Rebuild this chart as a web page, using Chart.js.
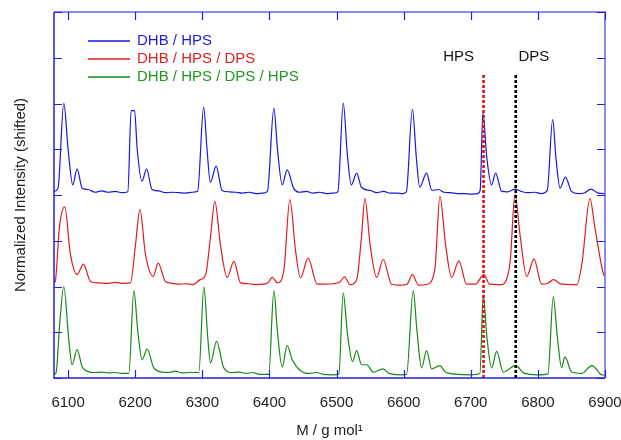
<!DOCTYPE html>
<html>
<head>
<meta charset="utf-8">
<script src="https://cdn.jsdelivr.net/npm/chart.js@4.4.1/dist/chart.umd.min.js"></script>
<style>
  html, body { margin: 0; padding: 0; background: #fff; }
  #wrap { width: 621px; height: 440px; }
</style>
</head>
<body>
<div id="wrap"><canvas id="spectra"></canvas></div>
<script>
// mass axis ticks and vertical range
const xTicks = [6100, 6200, 6300, 6400, 6500, 6600, 6700, 6800, 6900];
const xMin = 6079, xMax = 6900;
const yMin = 0, yMax = 8;

// DHB / HPS (shifted up by ~4)
const blueMass = [6079, 6085, 6093.6, 6100, 6107, 6113.4, 6121, 6130, 6140, 6150, 6160, 6170, 6180, 6189,
  6194, 6199, 6203, 6210, 6217, 6225, 6235, 6245, 6255, 6265, 6275, 6285, 6293, 6302, 6307, 6312, 6320.6, 6329.5,
  6340, 6350, 6360, 6370, 6380, 6390, 6397, 6406.6, 6412, 6419, 6426.4, 6436, 6445, 6455, 6465, 6475, 6485, 6495,
  6502, 6510, 6516, 6522, 6530, 6537, 6550, 6560, 6570, 6580, 6590, 6598, 6604, 6613, 6619, 6624, 6634, 6642,
  6652, 6660, 6670, 6680, 6690, 6700, 6710, 6714, 6718, 6724, 6731, 6737, 6746, 6755, 6766, 6775, 6785, 6795,
  6805, 6814, 6822, 6827, 6833, 6841, 6850, 6860, 6870, 6879, 6890, 6900];
const blueInt = [4.08, 4.15, 6.01, 5.0, 4.22, 4.57, 4.15, 4.12, 4.06, 4.09, 4.06, 4.08, 4.05, 4.07,
  5.85, 5.84, 5.0, 4.30, 4.57, 4.12, 4.09, 4.05, 4.06, 4.05, 4.04, 4.06, 4.08, 5.92, 5.0, 4.28, 4.63, 4.10,
  4.07, 4.06, 4.04, 4.06, 4.03, 4.04, 4.08, 5.90, 5.0, 4.22, 4.55, 4.15, 4.06, 4.08, 4.04, 4.06, 4.03, 4.04,
  4.07, 6.01, 4.9, 4.22, 4.48, 4.17, 4.10, 4.05, 4.08, 4.04, 4.04, 4.03, 4.07, 5.88, 4.8, 4.17, 4.48, 4.10,
  4.12, 4.06, 4.05, 4.03, 4.03, 4.02, 4.03, 4.10, 5.79, 4.8, 4.22, 4.48, 4.08, 4.07, 4.13, 4.08, 4.05, 4.06,
  4.03, 4.10, 5.65, 4.8, 4.15, 4.39, 4.08, 4.03, 4.05, 4.13, 4.04, 4.03];

// DHB / HPS / DPS (shifted up by ~2)
const redMass = [6079, 6081, 6087, 6095, 6103.5, 6113.4, 6122.8, 6133.4, 6145, 6160, 6170, 6180, 6193, 6200.4,
  6207, 6215.3, 6226.7, 6234.2, 6245, 6255, 6265, 6275, 6285, 6297, 6305, 6312, 6318.7, 6327, 6337, 6347, 6357,
  6370, 6380, 6390, 6398, 6404, 6412, 6421.5, 6430.4, 6439, 6446.4, 6457.7, 6471, 6480, 6495, 6505, 6512, 6520,
  6530, 6537, 6542.3, 6550, 6559.7, 6569.5, 6582, 6595, 6605, 6613, 6622, 6635, 6646.6, 6654, 6662.5, 6671.4,
  6682.3, 6693.8, 6707, 6719.6, 6728, 6745, 6758.4, 6765.8, 6773.4, 6783.3, 6794.2, 6805.6, 6815, 6823, 6835,
  6850, 6858, 6865.6, 6877.6, 6885, 6897.9, 6900];
const redInt = [2.08, 2.12, 3.28, 3.74, 2.70, 2.26, 2.49, 2.11, 2.08, 2.07, 2.09, 2.07, 2.08, 2.91,
  3.68, 2.70, 2.22, 2.51, 2.11, 2.07, 2.05, 2.06, 2.04, 2.15, 2.26, 3.06, 3.86, 2.91, 2.20, 2.55, 2.08,
  2.06, 2.04, 2.05, 2.08, 2.20, 2.08, 2.35, 3.90, 2.77, 2.19, 2.62, 2.05, 2.05, 2.06, 2.10, 2.21, 2.04,
  2.15, 3.06, 3.92, 2.91, 2.20, 2.59, 2.05, 2.03, 2.05, 2.26, 2.03, 2.05, 2.40, 3.97, 2.91, 2.20,
  2.56, 2.05, 2.05, 2.26, 2.05, 2.04, 2.50, 4.01, 3.13, 2.22, 2.60, 2.05, 2.07, 2.15, 2.05,
  2.04, 2.04, 2.50, 3.92, 3.28, 2.26, 2.22];

// DHB / HPS / DPS / HPS (no shift)
const greenMass = [6079, 6082, 6087.6, 6093.6, 6101, 6106, 6113.4, 6121, 6130, 6140, 6150, 6160, 6170, 6180,
  6190.5, 6198, 6204, 6210.3, 6217.8, 6227.7, 6240, 6250, 6260, 6270, 6280, 6294.8, 6302.3, 6308, 6312.2,
  6321.2, 6332, 6345, 6355, 6365, 6375, 6385, 6399, 6406.6, 6412, 6419, 6426.4, 6434, 6446.4, 6460, 6470,
  6480, 6495, 6503.5, 6509.9, 6516, 6523.9, 6529.9, 6537.3, 6545, 6554.7, 6569.5, 6578, 6595, 6604.4, 6614.2,
  6620, 6626.7, 6634.2, 6641.6, 6654, 6662, 6680, 6700, 6713.6, 6718.6, 6724, 6731.1, 6738.6, 6748.4, 6766.8,
  6780, 6800, 6815, 6822.9, 6829, 6835.4, 6840.3, 6850.3, 6865, 6880.6, 6895, 6900];
const greenInt = [0.08, 0.11, 1.20, 2.00, 0.84, 0.29, 0.62, 0.24, 0.14, 0.12, 0.13, 0.11, 0.12, 0.10,
  0.10, 1.91, 1.00, 0.40, 0.63, 0.22, 0.13, 0.12, 0.15, 0.11, 0.12, 0.12, 1.99, 0.90, 0.33,
  0.80, 0.22, 0.12, 0.13, 0.10, 0.12, 0.08, 0.08, 1.91, 1.00, 0.24, 0.71, 0.40, 0.16, 0.10, 0.12,
  0.08, 0.07, 0.09, 1.86, 1.00, 0.36, 0.60, 0.29, 0.29, 0.13, 0.20, 0.10, 0.07, 0.08, 1.91,
  1.00, 0.22, 0.60, 0.20, 0.27, 0.13, 0.08, 0.07, 0.10, 1.82, 0.90, 0.22, 0.58, 0.13, 0.27,
  0.10, 0.07, 0.09, 1.78, 0.90, 0.22, 0.46, 0.13, 0.10, 0.27, 0.07, 0.06];

// reference masses for the HPS / DPS repeat units
const markerNames = ['HPS', 'DPS'];
const markerMass = [6719, 6767];
const markerTop = 6.63;
const markerColors = ['#e01010', '#000000'];
const markerLabelMass = [6682, 6794];
const markerLabelY = 7.02;

const seriesNames = ['DHB / HPS', 'DHB / HPS / DPS', 'DHB / HPS / DPS / HPS'];
const seriesColors = ['#1818e0', '#e01c1c', '#148a14'];
const seriesText = ['#1c1ce0', '#e02222', '#229622'];

const toXY = (xs, ys) => xs.map((x, i) => ({ x: x, y: ys[i] }));

const frameColor = '#2222e0';
const font = "'Liberation Sans', Arial, sans-serif";

const decorations = {
    id: 'decorations',
    afterDatasetsDraw(chart) {
        const ctx = chart.ctx;
        const a = chart.chartArea;
        const xs = chart.scales.x, ys = chart.scales.y;
        ctx.save();

        // frame
        ctx.lineWidth = 1.5;
        ctx.strokeStyle = '#6464ea';
        ctx.beginPath();
        ctx.moveTo(a.left, a.top); ctx.lineTo(a.right, a.top); ctx.lineTo(a.right, a.bottom);
        ctx.stroke();
        ctx.strokeStyle = frameColor;
        ctx.beginPath();
        ctx.moveTo(a.left, a.top); ctx.lineTo(a.left, a.bottom); ctx.lineTo(a.right, a.bottom);
        ctx.stroke();

        // inward ticks
        ctx.lineWidth = 1.2;
        ctx.strokeStyle = frameColor;
        ctx.beginPath();
        xTicks.forEach(v => {
            const px = Math.round(xs.getPixelForValue(v)) + 0.5;
            ctx.moveTo(px, a.bottom); ctx.lineTo(px, a.bottom - 8);
            ctx.moveTo(px, a.top); ctx.lineTo(px, a.top + 8);
        });
        for (let v = yMin; v <= yMax; v++) {
            const py = Math.round(ys.getPixelForValue(v)) + 0.5;
            ctx.moveTo(a.left, py); ctx.lineTo(a.left + 8, py);
            ctx.moveTo(a.right, py); ctx.lineTo(a.right - 8, py);
        }
        ctx.stroke();

        // legend
        ctx.font = '15px ' + font;
        ctx.textBaseline = 'middle';
        ctx.textAlign = 'left';
        seriesNames.forEach((name, i) => {
            const y = 41 + i * 18;
            ctx.strokeStyle = seriesColors[i];
            ctx.lineWidth = 1.3;
            ctx.beginPath();
            ctx.moveTo(88, y); ctx.lineTo(130, y);
            ctx.stroke();
            ctx.fillStyle = seriesText[i];
            ctx.fillText(name, 137, y);
        });

        // marker labels
        ctx.fillStyle = '#111';
        ctx.textAlign = 'center';
        markerNames.forEach((name, i) => {
            ctx.fillText(name, xs.getPixelForValue(markerLabelMass[i]), ys.getPixelForValue(markerLabelY));
        });
        ctx.restore();
    }
};

const datasets = seriesNames.map((name, i) => ({
    label: name,
    data: [toXY(blueMass, blueInt), toXY(redMass, redInt), toXY(greenMass, greenInt)][i],
    borderColor: seriesColors[i],
    borderWidth: 1.2,
    pointRadius: 0,
    cubicInterpolationMode: 'monotone',
    order: 2
}));

markerMass.forEach((m, i) => {
    datasets.push({
        label: markerNames[i],
        data: [{ x: m, y: yMin }, { x: m, y: markerTop }],
        borderColor: markerColors[i],
        borderWidth: 2.6,
        borderDash: [3, 2],
        pointRadius: 0,
        order: 1
    });
});

const ctx = document.getElementById('spectra').getContext('2d');
const chart = new Chart(ctx, {
    type: 'line',
    data: { datasets: datasets },
    plugins: [decorations],
    options: {
        responsive: true,
        maintainAspectRatio: false,
        animation: false,
        layout: { padding: { top: 12, right: 16, left: 0, bottom: 0 } },
        plugins: {
            legend: { display: false },
            tooltip: { enabled: false }
        },
        scales: {
            x: {
                type: 'linear',
                min: xMin,
                max: xMax,
                afterBuildTicks: s => { s.ticks = xTicks.map(v => ({ value: v })); },
                afterFit: s => { s.height = 62; s.paddingRight = 0; s.paddingLeft = 0; },
                grid: { display: false, drawTicks: false },
                border: { display: false },
                ticks: {
                    color: '#222',
                    padding: 16,
                    maxRotation: 0,
                    font: { family: font, size: 15 },
                    callback: v => String(v)
                },
                title: {
                    display: true,
                    text: 'M / g mol\u00b9',
                    color: '#222',
                    padding: { top: 0, bottom: 0 },
                    font: { family: font, size: 15 }
                }
            },
            y: {
                min: yMin,
                max: yMax,
                afterFit: s => { s.width = 54; },
                grid: { display: false, drawTicks: false },
                border: { display: false },
                ticks: { display: false, stepSize: 1 },
                title: {
                    display: true,
                    text: 'Normalized Intensity (shifted)',
                    color: '#222',
                    padding: { top: 12, bottom: 0 },
                    font: { family: font, size: 15 }
                }
            }
        }
    }
});
</script>
</body>
</html>
